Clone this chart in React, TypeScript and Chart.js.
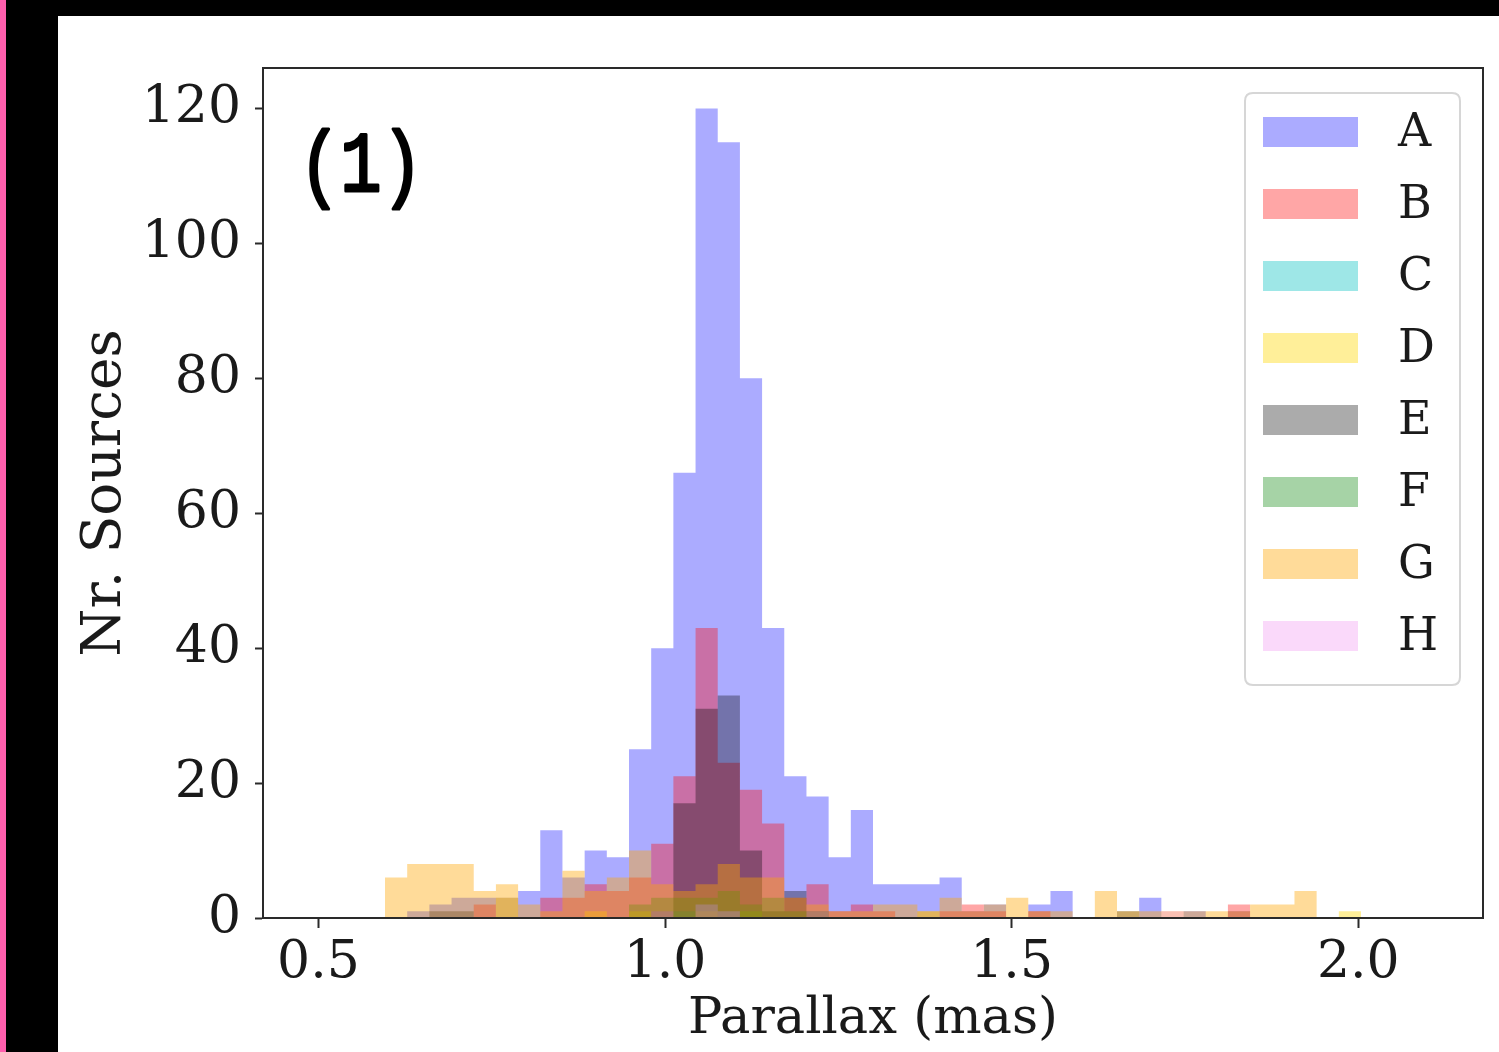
import React, { useEffect, useRef } from "react";
import { Chart, registerables } from "chart.js";

Chart.register(...registerables);

// ---- Data -----------------------------------------------------------
const BIN_START = 0.5;
const BIN_WIDTH = 0.032;
const NUM_BINS = 50;

const seriesLabels = ["A", "B", "C", "D", "E", "F", "G", "H"];
const seriesColors = [
  "rgba(0,0,255,0.33)",
  "rgba(255,0,0,0.35)",
  "rgba(0,191,191,0.38)",
  "rgba(255,215,0,0.4)",
  "rgba(0,0,0,0.33)",
  "rgba(0,128,0,0.35)",
  "rgba(255,165,0,0.4)",
  "rgba(238,130,238,0.3)",
];

const countsA = [0,0,0,0,1,2,3,3,3,4, 13,6,10,9,25,40,66,120,115,80, 43,21,18,9,16,5,5,5,6,1, 2,0,2,4,0,0,0,3,0,1, 0,1,0,0,0,0,0,0,0,0];
const countsB = [0,0,0,0,0,0,0,2,0,0, 3,3,5,4,6,11,21,43,23,19, 14,3,5,1,2,1,0,0,1,2, 1,0,1,0,0,0,0,0,0,0, 0,2,0,0,0,0,0,0,0,0];
const countsC = [0,0,0,0,0,0,0,0,0,0, 0,0,0,0,0,0,1,2,1,1, 0,0,0,0,0,0,0,0,0,0, 0,0,0,0,0,0,0,0,0,0, 0,0,0,0,0,0,0,0,0,0];
const countsD = [0,0,0,0,0,0,0,0,3,0, 0,0,1,0,1,0,0,1,0,1, 0,0,0,0,0,0,0,1,0,0, 0,0,0,0,0,0,0,0,0,0, 0,0,0,0,0,0,1,0,0,0];
const countsE = [0,0,0,0,0,1,1,0,0,0, 0,0,0,0,0,1,17,31,33,10, 1,4,1,0,0,0,0,0,0,0, 0,0,0,0,0,0,1,0,0,0, 0,0,0,0,0,0,0,0,0,0];
const countsF = [0,0,0,0,0,0,0,0,0,0, 0,0,0,0,2,3,3,3,4,2, 3,1,1,0,0,0,0,0,0,0, 0,0,0,0,0,0,0,0,0,0, 0,0,0,0,0,0,0,0,0,0];
const countsG = [0,0,0,6,8,8,8,4,5,2, 1,7,4,6,10,5,4,5,8,6, 6,3,2,1,1,2,2,1,3,1, 2,3,1,1,0,4,1,1,1,1, 1,1,2,2,4,0,0,0,0,0];
const countsH = [0,0,0,0,0,0,0,0,0,0, 0,0,0,0,0,1,0,2,1,0, 0,0,1,0,0,0,0,0,0,0, 0,0,0,0,0,0,0,0,1,0, 0,0,0,0,0,0,0,0,0,0];

const allCounts = [countsA, countsB, countsC, countsD, countsE, countsF, countsG, countsH];

const xTickStep = 0.5;
const yTickStep = 20;
const xLimits = [0.42, 2.18];
const yLimits = [0, 126];

const xTitle = "Parallax (mas)";
const yTitle = "Nr. Sources";
const panelLabel = "(1)";

// ---------------------------------------------------------------------
const binEdges = Array.from({ length: NUM_BINS + 1 }, (_, i) => BIN_START + BIN_WIDTH * i);

const SERIF = "'DejaVu Serif', serif";
const AXIS_COLOR = "#2a2a2a";

const decorPlugin = {
  id: "decor",
  afterDraw(chart: any) {
    const { ctx, chartArea: ca } = chart;
    ctx.save();
    // frame (all four spines)
    ctx.strokeStyle = AXIS_COLOR;
    ctx.lineWidth = 2;
    ctx.strokeRect(ca.left, ca.top, ca.right - ca.left, ca.bottom - ca.top);

    // legend box
    const fx = ca.right - 238;
    const fy = ca.top + 25;
    const fw = 215;
    const fh = 592;
    const r = 8;
    ctx.beginPath();
    ctx.moveTo(fx + r, fy);
    ctx.lineTo(fx + fw - r, fy);
    ctx.quadraticCurveTo(fx + fw, fy, fx + fw, fy + r);
    ctx.lineTo(fx + fw, fy + fh - r);
    ctx.quadraticCurveTo(fx + fw, fy + fh, fx + fw - r, fy + fh);
    ctx.lineTo(fx + r, fy + fh);
    ctx.quadraticCurveTo(fx, fy + fh, fx, fy + fh - r);
    ctx.lineTo(fx, fy + r);
    ctx.quadraticCurveTo(fx, fy, fx + r, fy);
    ctx.closePath();
    ctx.fillStyle = "rgba(255,255,255,0.8)";
    ctx.fill();
    ctx.strokeStyle = "#d6d6d6";
    ctx.lineWidth = 2;
    ctx.stroke();

    ctx.font = `46px ${SERIF}`;
    ctx.textBaseline = "middle";
    ctx.textAlign = "left";
    chart.data.datasets.forEach((ds: any, i: number) => {
      const cy = ca.top + 64 + 72 * i;
      ctx.fillStyle = ds.backgroundColor;
      ctx.fillRect(fx + 18, cy - 15, 95, 30);
      ctx.fillStyle = "#1a1a1a";
      ctx.fillText(ds.label, fx + 153, cy + 2);
    });

    // panel label
    ctx.translate(ca.left + 36, ca.top + 123);
    ctx.scale(0.8, 1);
    ctx.font = `86px 'Liberation Mono', monospace`;
    ctx.fillStyle = "#000";
    ctx.strokeStyle = "#000";
    ctx.lineWidth = 3;
    ctx.lineJoin = "round";
    ctx.textBaseline = "alphabetic";
    ctx.textAlign = "left";
    ctx.fillText(panelLabel, 0, 0);
    ctx.strokeText(panelLabel, 0, 0);
    ctx.restore();
  },
};

export default function App() {
  const canvasRef = useRef<HTMLCanvasElement | null>(null);

  useEffect(() => {
    const canvas = canvasRef.current;
    if (!canvas) return;
    const datasets = allCounts.map((counts, si) => ({
      label: seriesLabels[si],
      data: [
        ...counts.map((y, i) => ({ x: binEdges[i], y })),
        { x: binEdges[NUM_BINS], y: counts[NUM_BINS - 1] },
      ],
      backgroundColor: seriesColors[si],
      borderColor: "rgba(0,0,0,0)",
      borderWidth: 0,
      pointRadius: 0,
      pointHoverRadius: 0,
      stepped: "before",
      fill: "origin",
      tension: 0,
      order: seriesLabels.length - si,
    }));

    const chart = new Chart(canvas, {
      type: "line",
      data: { datasets } as any,
      options: {
        responsive: false,
        animation: false,
        events: [],
        layout: { padding: { left: 10, right: 16, top: 52, bottom: 2 } },
        plugins: { legend: { display: false }, tooltip: { enabled: false } },
        scales: {
          x: {
            type: "linear",
            offset: false,
            min: xLimits[0],
            max: xLimits[1],
            afterFit: (s: any) => {
              s.height = 132;
            },
            grid: {
              display: true,
              offset: false,
              drawOnChartArea: false,
              drawTicks: true,
              tickLength: 10,
              tickWidth: 2,
              tickColor: AXIS_COLOR,
            },
            border: { display: true, color: AXIS_COLOR, width: 2 },
            ticks: {
              stepSize: xTickStep,
              includeBounds: false,
              autoSkip: false,
              maxRotation: 0,
              padding: 4,
              color: "#1a1a1a",
              font: { family: SERIF, size: 52 },
              callback: (v: any) => Number(v).toFixed(1),
            },
            title: {
              display: true,
              text: xTitle,
              color: "#1a1a1a",
              padding: 0,
              font: { family: SERIF, size: 51 },
            },
          },
          y: {
            type: "linear",
            min: yLimits[0],
            max: yLimits[1],
            afterFit: (s: any) => {
              s.width = 195;
            },
            grid: {
              display: true,
              drawOnChartArea: false,
              drawTicks: true,
              tickLength: 8,
              tickWidth: 2,
              tickColor: AXIS_COLOR,
            },
            border: { display: true, color: AXIS_COLOR, width: 2 },
            ticks: {
              stepSize: yTickStep,
              includeBounds: false,
              autoSkip: false,
              padding: 14,
              color: "#1a1a1a",
              font: { family: SERIF, size: 52 },
              callback: (v: any) => String(Math.round(Number(v))),
            },
            title: {
              display: true,
              text: yTitle,
              color: "#1a1a1a",
              padding: { top: 5, bottom: 0 },
              font: { family: SERIF, size: 55 },
            },
          },
        },
      } as any,
      plugins: [decorPlugin],
    });
    return () => chart.destroy();
  }, []);

  return (
    <div
      style={{
        position: "fixed",
        left: 0,
        top: 0,
        width: 1499,
        height: 1052,
        background: "#000",
        overflow: "hidden",
      }}
    >
      <div style={{ position: "absolute", left: 0, top: 0, width: 6, height: 1052, background: "#ff5fae" }} />
      <div
        style={{
          position: "absolute",
          left: 58,
          top: 16,
          width: 1441,
          height: 1036,
          background: "#fff",
        }}
      >
        <canvas ref={canvasRef} width={1441} height={1036} style={{ display: "block" }} />
      </div>
    </div>
  );
}
